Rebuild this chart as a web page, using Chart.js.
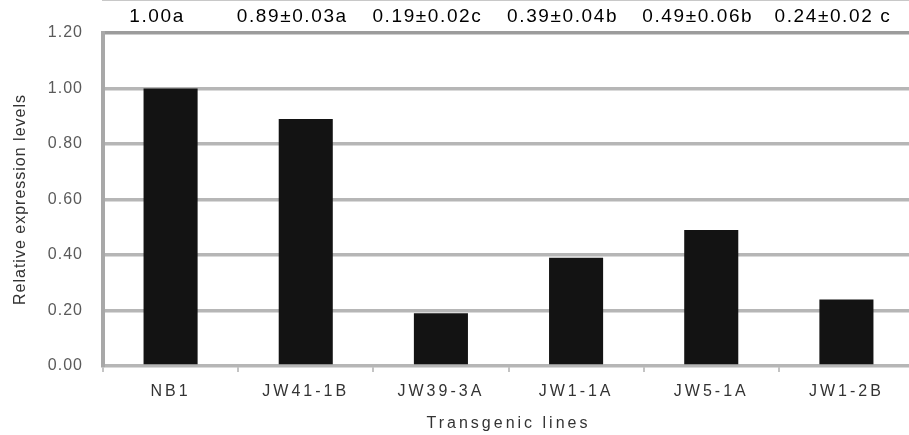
<!DOCTYPE html>
<html>
<head>
<meta charset="utf-8">
<script src="https://cdn.jsdelivr.net/npm/chart.js@4.4.0/dist/chart.umd.min.js"></script>
<style>
    html, body { margin: 0; padding: 0; background: #fff; overflow: hidden; }
    #wrap { width: 915px; height: 435px; }
</style>
</head>
<body>
<div id="wrap"><canvas id="myChart"></canvas></div>
<script>
const lines = ['NB1', 'JW41-1B', 'JW39-3A', 'JW1-1A', 'JW5-1A', 'JW1-2B'];
const expression = [1.00, 0.89, 0.19, 0.39, 0.49, 0.24];
const notes = ['1.00a', '0.89\u00b10.03a', '0.19\u00b10.02c', '0.39\u00b10.04b', '0.49\u00b10.06b', '0.24\u00b10.02 c'];

const FONT = "'Liberation Sans', Arial, sans-serif";

// text spacing + the value notes above the plot
const textPlugin = {
    id: 'textPlugin',
    beforeDraw: function (chart) {
        chart.ctx.letterSpacing = '1px';
    },
    afterDatasetsDraw: function (chart) {
        chart.ctx.letterSpacing = '3px';
    },
    afterDraw: function (chart) {
        const ctx = chart.ctx;
        const x = chart.scales.x;
        ctx.save();
        ctx.letterSpacing = '1.6px';
        ctx.font = '19px ' + FONT;
        ctx.fillStyle = '#000';
        ctx.textAlign = 'center';
        ctx.textBaseline = 'middle';
        notes.forEach((t, i) => {
            ctx.fillText(t, x.getPixelForValue(i - 0.1), 17);
        });
        ctx.restore();
    }
};

const ctx = document.getElementById('myChart');

new Chart(ctx, {
    type: 'bar',
    data: {
        labels: lines,
        datasets: [{
            data: expression,
            backgroundColor: '#131313',
            borderWidth: 0,
            barPercentage: 0.4,
            categoryPercentage: 1.0
        }]
    },
    plugins: [textPlugin],
    options: {
        responsive: true,
        maintainAspectRatio: false,
        animation: false,
        layout: { padding: { top: 33, left: 0, right: 1, bottom: 0 } },
        plugins: {
            legend: { display: false },
            tooltip: { enabled: false }
        },
        scales: {
            x: {
                afterFit: function (scale) { scale.height = 69; },
                grid: {
                    z: 1,
                    offset: true,
                    drawOnChartArea: false,
                    color: '#c4c4c4',
                    lineWidth: 2,
                    tickLength: 6
                },
                border: { color: '#c8c8c8', width: 2 },
                ticks: {
                    z: 1,
                    color: '#333',
                    padding: 10,
                    font: { family: FONT, size: 16 }
                },
                title: {
                    display: true,
                    text: 'Transgenic lines',
                    color: '#333',
                    padding: { top: 0, bottom: 2 },
                    font: { family: FONT, size: 16 }
                }
            },
            y: {
                min: 0,
                max: 1.2,
                afterFit: function (scale) { scale.width = 103; },
                grid: {
                    drawTicks: false,
                    color: c => c.tick && c.tick.value === 1.2 ? '#9c9c9c' : '#b6b6b6',
                    lineWidth: 3.5
                },
                border: { color: '#a8a8a8', width: 4 },
                ticks: {
                    stepSize: 0.2,
                    color: '#5a5a5a',
                    padding: 20,
                    font: { family: FONT, size: 16 },
                    callback: v => v.toFixed(2)
                },
                title: {
                    display: true,
                    text: 'Relative expression levels',
                    color: '#333',
                    padding: { top: 11, bottom: 0 },
                    font: { family: FONT, size: 16 }
                }
            }
        }
    }
});
</script>
</body>
</html>
